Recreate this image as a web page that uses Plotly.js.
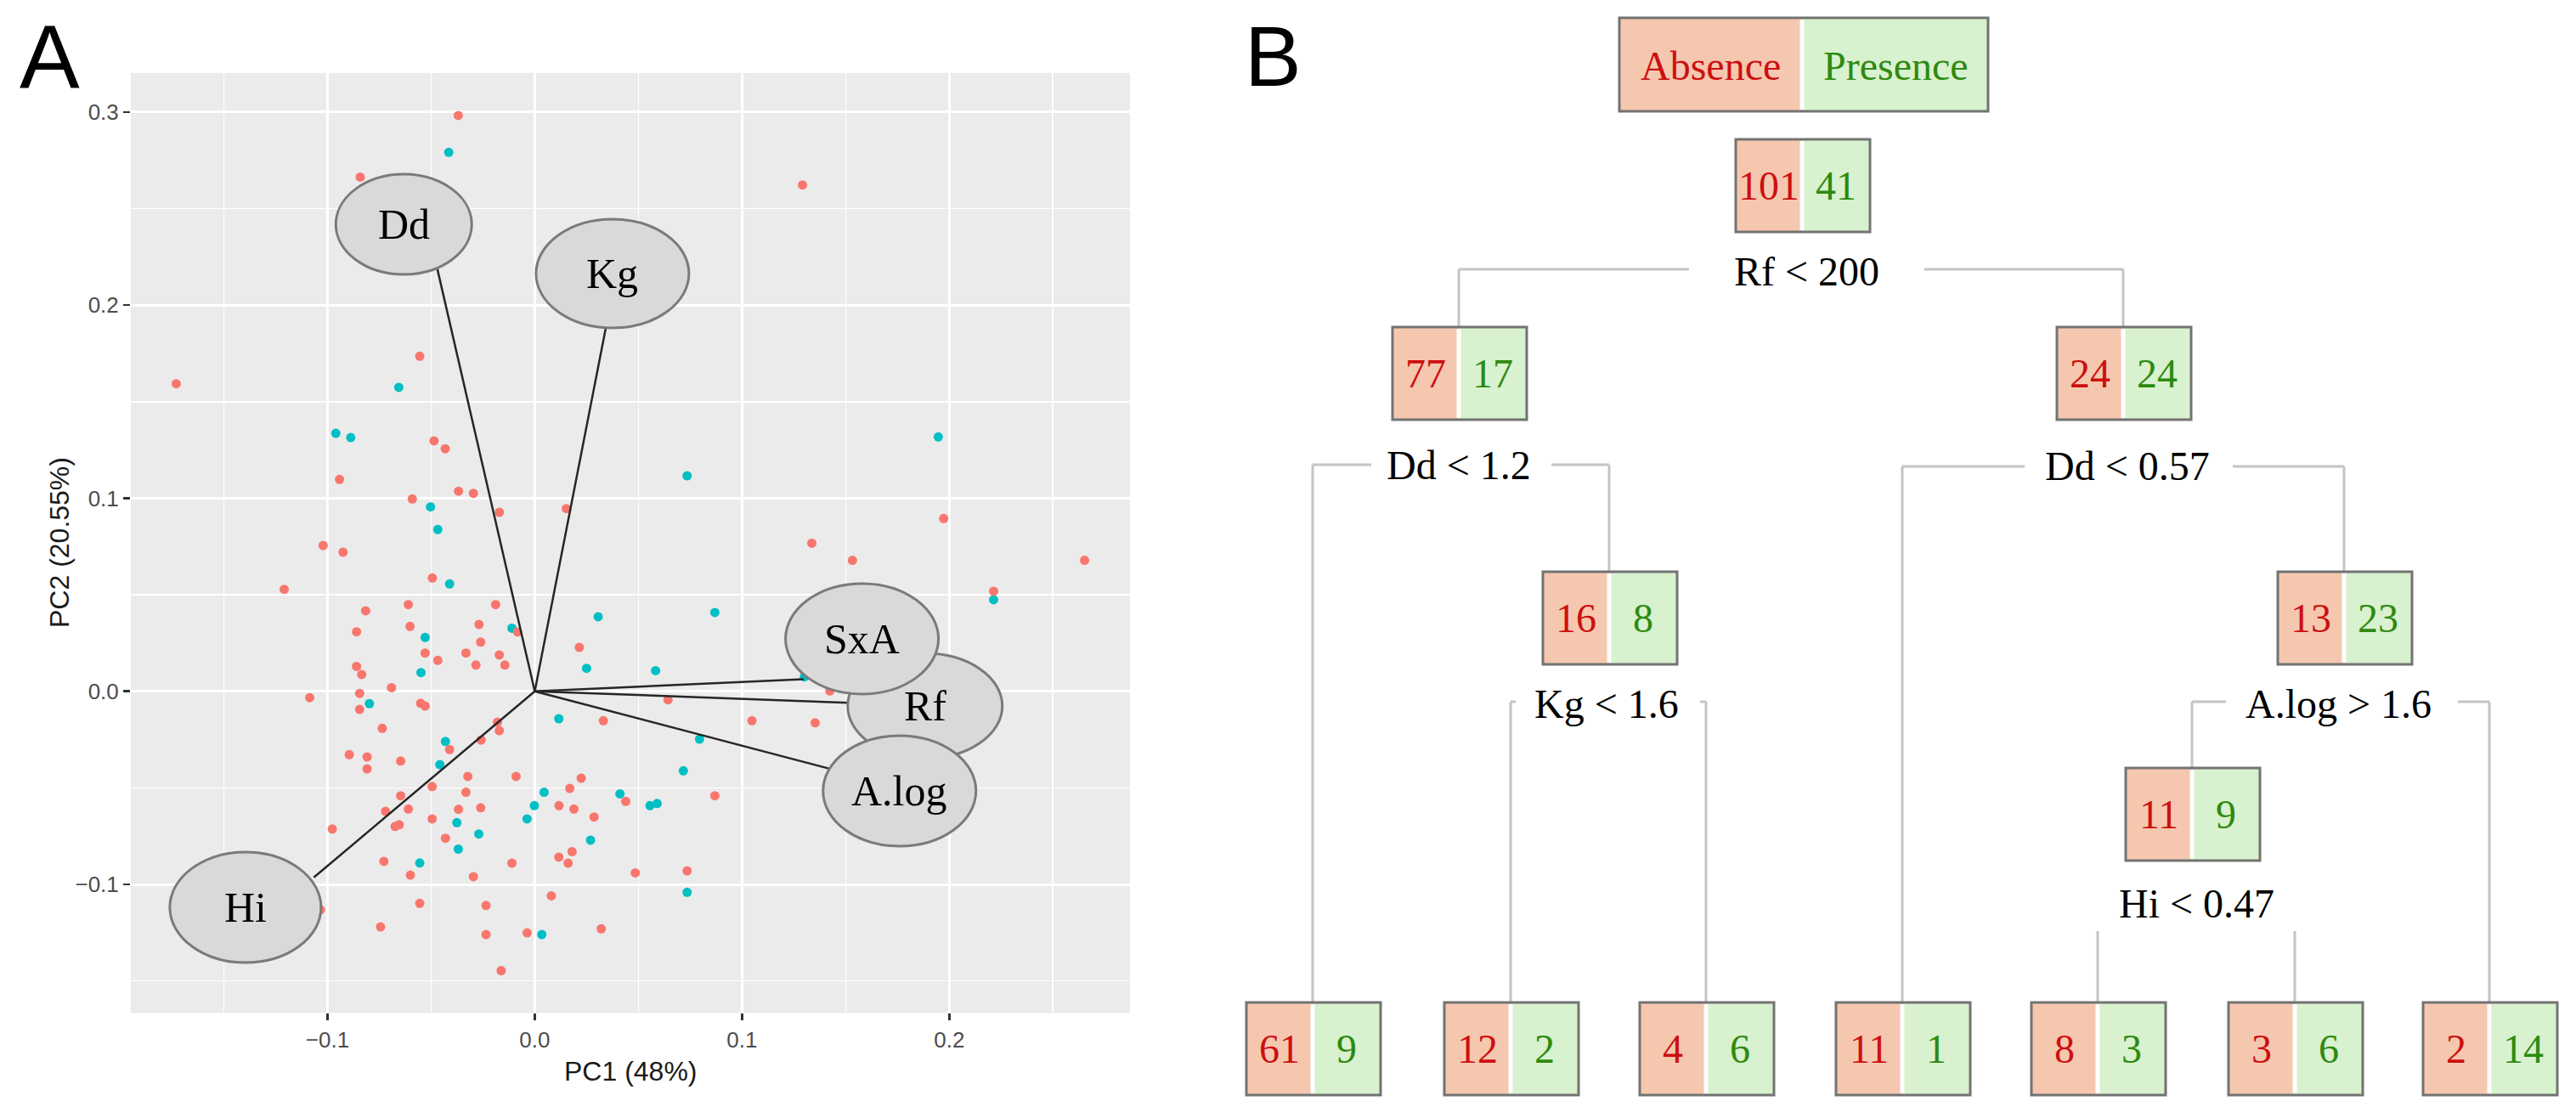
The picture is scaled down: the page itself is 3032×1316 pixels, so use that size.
<!DOCTYPE html>
<html><head><meta charset="utf-8">
<script src="https://cdn.plot.ly/plotly-3.0.1.min.js"></script>
<style>html,body{margin:0;padding:0;background:#fff;} #chart{width:3032px;height:1316px;}</style>
</head><body><div id="chart"></div>
<script>
// ---------------- DATA: Panel A (PCA scores) ----------------
const absencePC1 = [-0.0555,-0.0486,-0.0432,-0.0942,-0.0368,-0.0296,-0.0591,-0.0171,-0.1021,-0.0925,0.0152,0.1337,-0.0494,-0.1209,-0.0610,-0.0189,-0.0816,-0.0602,-0.0269,-0.0083,-0.0860,-0.0261,-0.0529,-0.0332,-0.0171,-0.0468,-0.0284,-0.0144,-0.0860,-0.0835,-0.0691,-0.1086,-0.0845,-0.0551,-0.0529,-0.0845,-0.0736,-0.0180,-0.0171,-0.0259,-0.0411,-0.0895,-0.0809,-0.0647,-0.0809,0.1533,0.0215,0.0643,0.1424,0.0331,0.1048,0.1353,-0.0323,-0.0090,-0.0495,-0.0332,-0.0647,-0.0610,-0.0720,-0.0368,-0.0261,-0.0495,-0.0674,-0.0654,-0.0977,-0.0431,-0.0728,-0.0110,-0.0600,-0.0296,0.0080,-0.0555,-0.0235,-0.1034,-0.0744,-0.0235,-0.0037,-0.0162,0.0224,0.0169,0.0439,0.0869,0.0117,0.0189,0.0286,0.0180,0.0116,0.0161,0.0485,0.0735,0.0321,-0.0369,-0.0842,-0.1730,0.1292,0.1973,0.2214,0.2653];
const absencePC2 = [0.1735,0.1297,0.1256,0.1097,0.1036,0.1025,0.0996,0.0927,0.0755,0.0720,0.0946,0.0767,0.0587,0.0528,0.0449,0.0449,0.0417,0.0336,0.0346,0.0307,0.0308,0.0255,0.0198,0.0198,0.0188,0.0160,0.0136,0.0136,0.0129,0.0087,0.0019,-0.0033,-0.0011,-0.0062,-0.0076,-0.0094,-0.0192,-0.0160,-0.0204,-0.0252,-0.0302,-0.0328,-0.0340,-0.0361,-0.0402,0.0678,0.0227,-0.0044,0.0002,-0.0152,-0.0152,-0.0163,-0.0441,-0.0441,-0.0493,-0.0523,-0.0541,-0.0610,-0.0622,-0.0611,-0.0603,-0.0661,-0.0700,-0.0691,-0.0713,-0.0761,-0.0881,-0.0890,-0.0952,-0.0960,-0.1059,-0.1098,-0.1109,-0.1131,-0.1220,-0.1260,-0.1251,-0.1447,-0.0450,-0.0503,-0.0570,-0.0541,-0.0592,-0.0610,-0.0651,-0.0830,-0.0859,-0.0890,-0.0940,-0.0930,-0.1230,0.2982,0.2663,0.1593,0.2622,0.0895,0.0518,0.0678];
const presencePC1 = [-0.0656,-0.0960,-0.0888,-0.0503,-0.0468,0.0735,-0.0411,-0.0110,-0.0529,-0.0549,-0.0798,-0.0431,-0.0458,0.0306,0.0869,0.0250,0.0583,0.1301,0.0116,0.0795,0.0717,0.0045,-0.0002,-0.0376,-0.0037,-0.0270,-0.0369,-0.0555,0.0034,0.0411,0.0556,0.0590,0.0269,0.0735,-0.0415,0.1947,0.2214];
const presencePC2 = [0.1574,0.1336,0.1314,0.0955,0.0838,0.1116,0.0556,0.0327,0.0279,0.0097,-0.0064,-0.0260,-0.0380,0.0386,0.0408,0.0119,0.0107,0.0075,-0.0142,-0.0248,-0.0412,-0.0523,-0.0592,-0.0680,-0.0661,-0.0739,-0.0817,-0.0889,-0.1260,-0.0531,-0.0592,-0.0581,-0.0771,-0.1041,0.2791,0.1317,0.0474];

// Variable loadings (arrow ends) and label centres
const varNames   = ['Dd','Kg','Hi','Rf','SxA','A.log'];
const arrowPC1   = [-0.0470, 0.0342,-0.1066, 0.1510, 0.1297, 0.1423];
const arrowPC2   = [ 0.2187, 0.1877,-0.0964,-0.0059, 0.0063,-0.0401];
const labelPC1   = [-0.0632, 0.0375,-0.1396, 0.1883, 0.1579, 0.1760];
const labelPC2   = [ 0.2418, 0.2163,-0.1119,-0.0076, 0.0272,-0.0516];

const xTitle = 'PC1 (48%)';
const yTitle = 'PC2 (20.55%)';

// ---------------- DATA: Panel B (classification tree) ----------------
const classNames    = ['Absence','Presence'];
const nodeAbsence   = [101, 77, 24, 16, 13, 11, 61, 12, 4, 11, 8, 3, 2];
const nodePresence  = [ 41, 17, 24,  8, 23,  9,  9,  2, 6,  1, 3, 6, 14];
const splitLabels   = ['Rf < 200','Dd < 1.2','Dd < 0.57','Kg < 1.6','A.log > 1.6','Hi < 0.47'];

// ---------------- LAYOUT CONFIG (pixels) ----------------
const W = 3032, H = 1316;
const px = X => X / W;
const py = Y => 1 - Y / H;

const red = '#F8766D', cyan = '#00BFC4';
const absFill = '#F6C7AF', preFill = '#D8F1CE';
const absText = '#CC1010', preText = '#2E8A10';
const serif = 'Liberation Serif, Times New Roman, serif';
const sans  = 'Liberation Sans, Arial, sans-serif';

const ellipseSize = {Dd:[160,118], Kg:[180,128], Hi:[178,130], Rf:[182,124], SxA:[180,130], 'A.log':[180,130]};
const ellipseOrder = ['Dd','Kg','Hi','Rf','SxA','A.log'];

// node box geometry: [centre x (split), top y]
const nodePos = [[2121,164],[1717,385],[2499,385],[1894,673],[2759,673],[2580,904],
                 [1545,1180],[1778,1180],[2008,1180],[2239,1180],[2469,1180],[2701,1180],[2930,1180]];
const boxH = 109, halfL = 78, halfR = 80;
// split connectors: label centre, line y, left/right child x, gaps, child tops
const splitGeom = [
  {lx:2126, ly:319, hy:317, xl:1717, xr:2499, gl:1988, gr:2265, el:385,  er:385},
  {lx:1717, ly:547, hy:547, xl:1545, xr:1894, gl:1614, gr:1826, el:1180, er:673},
  {lx:2504, ly:549, hy:549, xl:2239, xr:2759, gl:2383, gr:2628, el:1180, er:673},
  {lx:1891, ly:828, hy:826, xl:1778, xr:2008, gl:1784, gr:2001, el:1180, er:1180},
  {lx:2752, ly:828, hy:826, xl:2580, xr:2930, gl:2620, gr:2893, el:904,  er:1180},
  {lx:2585, ly:1063, hy:1096, xl:2469, xr:2701, gl:2469, gr:2701, el:1180, er:1180}
];

// ---------------- TRACES ----------------
const traces = [
  {type:'scatter', mode:'markers', x:presencePC1, y:presencePC2, xaxis:'x', yaxis:'y',
   marker:{color:cyan, size:11}, hoverinfo:'skip', showlegend:false},
  {type:'scatter', mode:'markers', x:absencePC1, y:absencePC2, xaxis:'x', yaxis:'y',
   marker:{color:red, size:11}, hoverinfo:'skip', showlegend:false}
];

// ---------------- SHAPES ----------------
const shapes = [];
// panel A: loading lines
varNames.forEach((v,i)=>{
  shapes.push({type:'line', xref:'x', yref:'y', x0:0, y0:0, x1:arrowPC1[i], y1:arrowPC2[i],
    line:{color:'#262626', width:2.5}, layer:'above'});
});
// panel A: ellipses
ellipseOrder.forEach(v=>{
  const i = varNames.indexOf(v); const [w,h] = ellipseSize[v];
  shapes.push({type:'circle', xref:'x', yref:'y', xsizemode:'pixel', ysizemode:'pixel',
    xanchor:labelPC1[i], yanchor:labelPC2[i], x0:-w/2, x1:w/2, y0:-h/2, y1:h/2,
    fillcolor:'#D9D9D9', line:{color:'#7A7A7A', width:3}, layer:'above'});
});
// panel B: connectors
const connColor = '#C4C4C4';
function seg(x0,y0,x1,y1){ shapes.push({type:'line', xref:'paper', yref:'paper', x0:px(x0), y0:py(y0), x1:px(x1), y1:py(y1), line:{color:connColor, width:3}}); }
splitGeom.forEach(g=>{
  if (g.gl > g.xl) seg(g.xl, g.hy, g.gl, g.hy);
  if (g.xr > g.gr) seg(g.gr, g.hy, g.xr, g.hy);
  seg(g.xl, g.hy, g.xl, g.el);
  seg(g.xr, g.hy, g.xr, g.er);
});
// panel B: boxes
function box(cx, top, hl, hr, hgt){
  shapes.push({type:'rect', xref:'paper', yref:'paper', x0:px(cx-hl), x1:px(cx), y0:py(top+hgt), y1:py(top), fillcolor:absFill, line:{width:0}});
  shapes.push({type:'rect', xref:'paper', yref:'paper', x0:px(cx), x1:px(cx+hr), y0:py(top+hgt), y1:py(top), fillcolor:preFill, line:{width:0}});
  shapes.push({type:'line', xref:'paper', yref:'paper', x0:px(cx), x1:px(cx), y0:py(top+hgt-2), y1:py(top+2), line:{color:'#ffffff', width:5}});
  shapes.push({type:'rect', xref:'paper', yref:'paper', x0:px(cx-hl), x1:px(cx+hr), y0:py(top+hgt), y1:py(top), fillcolor:'rgba(0,0,0,0)', line:{color:'#737373', width:3}});
}
box(2121, 21, 215, 219, 110);
nodePos.forEach(p=>box(p[0], p[1], halfL, halfR, boxH));

// ---------------- ANNOTATIONS ----------------
const ann = [];
// panel labels
ann.push({text:'A', xref:'paper', yref:'paper', x:px(58), y:py(66), showarrow:false, xanchor:'center', yanchor:'middle', font:{family:sans, size:106, color:'#000'}});
ann.push({text:'B', xref:'paper', yref:'paper', x:px(1498), y:py(66), showarrow:false, xanchor:'center', yanchor:'middle', font:{family:sans, size:100, color:'#000'}});
// axis titles
ann.push({text:xTitle, xref:'paper', yref:'paper', x:px(742), y:py(1261), showarrow:false, xanchor:'center', yanchor:'middle', font:{family:sans, size:32, color:'#1a1a1a'}});
ann.push({text:yTitle, xref:'paper', yref:'paper', x:px(70), y:py(639), showarrow:false, textangle:-90, xanchor:'center', yanchor:'middle', font:{family:sans, size:32, color:'#1a1a1a'}});
// ellipse labels
varNames.forEach((v,i)=>{
  ann.push({text:v, xref:'x', yref:'y', x:labelPC1[i], y:labelPC2[i], showarrow:false, xanchor:'center', yanchor:'middle', font:{family:serif, size:50, color:'#000'}});
});
// tree legend
ann.push({text:classNames[0], xref:'paper', yref:'paper', x:px(2013), y:py(78), showarrow:false, xanchor:'center', yanchor:'middle', font:{family:serif, size:48, color:absText}});
ann.push({text:classNames[1], xref:'paper', yref:'paper', x:px(2231), y:py(78), showarrow:false, xanchor:'center', yanchor:'middle', font:{family:serif, size:48, color:preText}});
// node counts
nodePos.forEach((p,i)=>{
  const cy = p[1] + boxH/2;
  ann.push({text:String(nodeAbsence[i]), xref:'paper', yref:'paper', x:px(p[0]-halfL/2), y:py(cy), showarrow:false, xanchor:'center', yanchor:'middle', font:{family:serif, size:48, color:absText}});
  ann.push({text:String(nodePresence[i]), xref:'paper', yref:'paper', x:px(p[0]+halfR/2), y:py(cy), showarrow:false, xanchor:'center', yanchor:'middle', font:{family:serif, size:48, color:preText}});
});
// split labels
splitGeom.forEach((g,i)=>{
  ann.push({text:splitLabels[i], xref:'paper', yref:'paper', x:px(g.lx), y:py(g.ly), showarrow:false, xanchor:'center', yanchor:'middle', font:{family:serif, size:48, color:'#000'}});
});

// ---------------- LAYOUT ----------------
const layout = {
  width:W, height:H, margin:{l:0, r:0, t:0, b:0},
  paper_bgcolor:'#ffffff', plot_bgcolor:'#EBEBEB', showlegend:false,
  xaxis:{domain:[154/W, 1330/W], range:[-0.1949, 0.2872], anchor:'y',
    tick0:0, dtick:0.1, tickformat:'.1f', ticks:'outside', ticklen:8, tickwidth:2.5, tickcolor:'#333333',
    tickfont:{family:sans, size:26, color:'#4D4D4D'}, showgrid:true, gridcolor:'#ffffff', gridwidth:3,
    minor:{tick0:0, dtick:0.05, showgrid:true, gridcolor:'#ffffff', gridwidth:1.6, ticks:''},
    zeroline:false, showline:false, fixedrange:true},
  yaxis:{domain:[(H-1192.4)/H, (H-85.9)/H], range:[-0.1666, 0.3202], anchor:'x',
    tick0:0, dtick:0.1, tickformat:'.1f', ticks:'outside', ticklen:8, tickwidth:2.5, tickcolor:'#333333',
    tickfont:{family:sans, size:26, color:'#4D4D4D'}, showgrid:true, gridcolor:'#ffffff', gridwidth:3,
    minor:{tick0:0, dtick:0.05, showgrid:true, gridcolor:'#ffffff', gridwidth:1.6, ticks:''},
    zeroline:false, showline:false, fixedrange:true},
  shapes:shapes, annotations:ann
};

Plotly.newPlot('chart', traces, layout, {staticPlot:true, displayModeBar:false});
</script></body></html>
